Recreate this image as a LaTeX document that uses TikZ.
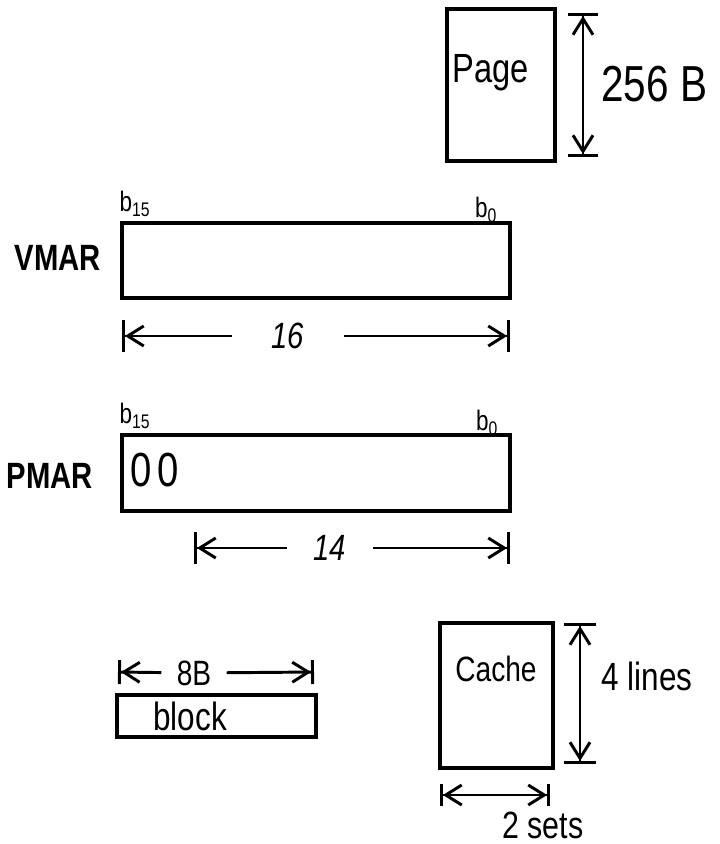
\documentclass[tikz,border=0pt]{standalone}
\usepackage{fontspec}
\setmainfont[FakeStretch=0.8]{Liberation Sans}
\usetikzlibrary{arrows.meta,positioning}

\begin{document}
\begin{tikzpicture}[x=0.025cm, y=-0.025cm, line width=2.1pt,
    box/.style={draw, line width=2.6pt, inner sep=0pt},
    txt/.style={inner sep=0pt, font=\fontsize{#1}{#1}\selectfont},
    halfdim/.style={-{Straight Barb[length=4mm,width=5mm]Bar[width=#1]}},
    dimline/.style={{Bar[width=#1]Straight Barb[length=4mm,width=5mm]}-{Straight Barb[length=4mm,width=5mm]Bar[width=#1]}}]
  \useasboundingbox (0,0) rectangle (720,844);

  % page
  \node[box, minimum width=2.7cm, minimum height=3.8cm] (page) at (501,85) {};
  \node[txt=29] (pagetxt) at (491,73) {Page};
  \coordinate (pgt) at (583,13);
  \coordinate (pgb) at (583,157);
  \draw[dimline=7.5mm] (pgt) -- (pgb);
  \node[txt=36, anchor=west] (pgsize) at (600,84) {256 B};

  % virtual address register
  \node[box, minimum width=9.7cm, minimum height=1.875cm] (vmar) at (316,260.5) {};
  \node[txt=26] (vmartxt) at (58,258) {\bfseries VMAR};
  \node[txt=20] (vb15) at (135,204) {b\textsubscript{15}};
  \node[txt=20] (vb0) at (486,210) {b\textsubscript{0}};
  \coordinate (v16l) at (122,336);
  \coordinate (v16r) at (510,336);
  \node[txt=26, inner xsep=27pt] (v16) at (288,336) {\itshape 16};
  \draw[halfdim=8mm] (v16) -- (v16l);
  \draw[halfdim=8mm] (v16) -- (v16r);

  % physical address register
  \node[box, minimum width=9.7cm, minimum height=1.9cm] (pmar) at (316,473) {};
  \node[txt=26] (pmartxt) at (50,476) {\bfseries PMAR};
  \node[txt=20] (pb15) at (135,416) {b\textsubscript{15}};
  \node[txt=20] (pb0) at (487,423) {b\textsubscript{0}};
  \node[txt=34] (zeros) at (155,470) {0\hspace{4pt}0};
  \coordinate (p14l) at (194,548);
  \coordinate (p14r) at (510,548);
  \node[txt=26, inner xsep=18pt] (p14) at (330,548) {\itshape 14};
  \draw[halfdim=8mm] (p14) -- (p14l);
  \draw[halfdim=8mm] (p14) -- (p14r);

  % block
  \node[box, minimum width=4.975cm, minimum height=1.05cm] (block) at (216.5,716) {};
  \node[txt=28] (blocktxt) at (190,716) {block};
  \coordinate (b8l) at (118,672);
  \coordinate (b8r) at (314,672);
  \node[txt=25, inner xsep=10pt] (b8) at (194,673) {8B};
  \draw[halfdim=6mm] (b8) -- (b8l);
  \draw[halfdim=6mm] (b8) -- (b8r);

  % cache
  \node[box, minimum width=2.825cm, minimum height=3.625cm] (cache) at (496.5,695.5) {};
  \node[txt=25] (cachetxt) at (496,669) {Cache};
  \coordinate (clt) at (580,623);
  \coordinate (clb) at (580,764);
  \draw[dimline=8mm] (clt) -- (clb);
  \node[txt=28, anchor=west] (lines) at (600,676) {4 lines};
  \coordinate (csl) at (440,795);
  \coordinate (csr) at (550,795);
  \draw[dimline=5.5mm] (csl) -- (csr);
  \node[txt=27] (sets) at (543,825) {2 sets};
\end{tikzpicture}
\end{document}
